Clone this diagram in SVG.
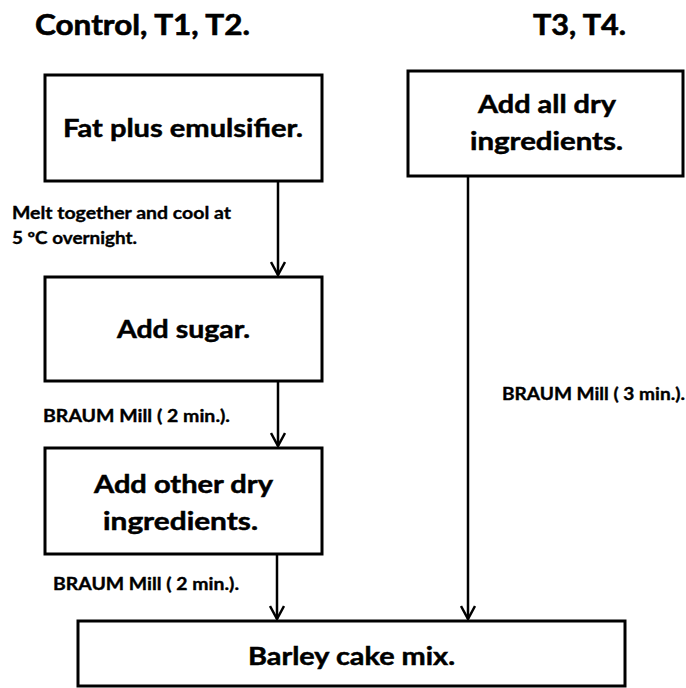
<svg xmlns="http://www.w3.org/2000/svg" width="686" height="688" viewBox="0 0 686 688">
  <style>
    .box { fill: #fff; stroke: #000; stroke-width: 3; }
    .t { font-family: Lato, "Open Sans", "Liberation Sans", sans-serif; font-weight: bold; fill: #000; stroke: #000; }
    .title { font-size: 29px; stroke-width: 0.6; }
    .lbl { font-size: 25px; stroke-width: 0.5; }
    .small { font-size: 16.5px; stroke-width: 0.35; }
    .conn { stroke: #000; stroke-width: 2.5; fill: none; marker-end: url(#arr); }
  </style>
  <defs>
    <marker id="arr" viewBox="0 0 16 16" refX="14" refY="8" markerWidth="16" markerHeight="16" markerUnits="userSpaceOnUse" orient="auto">
      <path d="M1,1 L14,8 L1,15" fill="none" stroke="#000" stroke-width="2.5"/>
    </marker>
  </defs>
  <rect width="686" height="688" fill="#fff"/>

  <g id="headings">
    <text class="t title" x="35" y="35" textLength="215" lengthAdjust="spacingAndGlyphs">Control, T1, T2.</text>
    <text class="t title" x="533" y="35" textLength="93" lengthAdjust="spacingAndGlyphs">T3, T4.</text>
  </g>

  <g id="connectors">
    <line class="conn" x1="278" y1="182" x2="278" y2="275"/>
    <line class="conn" x1="278" y1="382" x2="278" y2="446"/>
    <line class="conn" x1="277" y1="555" x2="277" y2="619"/>
    <line class="conn" x1="468" y1="177" x2="468" y2="619"/>
  </g>

  <g id="edge-labels">
    <text class="t small" x="12" y="219" textLength="219" lengthAdjust="spacingAndGlyphs">Melt together and cool at</text>
    <text class="t small" x="12" y="244" textLength="125" lengthAdjust="spacingAndGlyphs">5 ºC overnight.</text>
    <text class="t small" x="43" y="422" textLength="187" lengthAdjust="spacingAndGlyphs">BRAUM Mill ( 2 min.).</text>
    <text class="t small" x="53" y="590" textLength="186" lengthAdjust="spacingAndGlyphs">BRAUM Mill ( 2 min.).</text>
    <text class="t small" x="502" y="400" textLength="183" lengthAdjust="spacingAndGlyphs">BRAUM Mill ( 3 min.).</text>
  </g>

  <g id="fat">
    <rect class="box" x="45" y="75" width="277" height="106"/>
    <text class="t lbl" x="63" y="137" textLength="240" lengthAdjust="spacingAndGlyphs">Fat plus emulsifier.</text>
  </g>

  <g id="alldry">
    <rect class="box" x="408" y="71" width="275" height="105"/>
    <text class="t lbl" x="478" y="113" textLength="138" lengthAdjust="spacingAndGlyphs">Add all dry</text>
    <text class="t lbl" x="470" y="150" textLength="153" lengthAdjust="spacingAndGlyphs">ingredients.</text>
  </g>

  <g id="sugar">
    <rect class="box" x="45" y="277" width="277" height="104"/>
    <text class="t lbl" x="117" y="338" textLength="133" lengthAdjust="spacingAndGlyphs">Add sugar.</text>
  </g>

  <g id="otherdry">
    <rect class="box" x="45" y="448" width="277" height="106"/>
    <text class="t lbl" x="94" y="493" textLength="179" lengthAdjust="spacingAndGlyphs">Add other dry</text>
    <text class="t lbl" x="103" y="530" textLength="155" lengthAdjust="spacingAndGlyphs">ingredients.</text>
  </g>

  <g id="barley">
    <rect class="box" x="78" y="621" width="547" height="65"/>
    <text class="t lbl" x="248" y="665" textLength="207" lengthAdjust="spacingAndGlyphs">Barley cake mix.</text>
  </g>
</svg>
